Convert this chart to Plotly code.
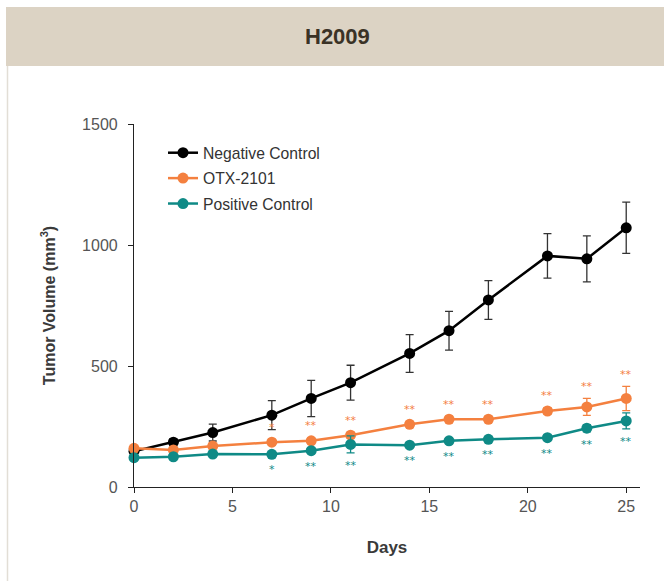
import plotly.graph_objects as go

days = [0, 2, 4, 7, 9, 11, 14, 16, 18, 21, 23, 25]

neg_mean = [148, 185, 225, 297, 366, 431, 552, 646, 773, 955, 943, 1071]
neg_err = [10, 15, 35, 60, 75, 72, 78, 80, 80, 92, 95, 106]

otx_mean = [160, 153, 169, 185, 191, 214, 259, 280, 280, 314, 331, 366]
otx_err = [8, 8, 10, 12, 12, 12, 12, 12, 12, 14, 35, 50]

pos_mean = [121, 125, 136, 135, 150, 176, 173, 191, 197, 204, 243, 273]
pos_err = [8, 8, 8, 10, 10, 35, 10, 10, 10, 10, 15, 33]

otx_sig = ["", "", "", "*", "**", "**", "**", "**", "**", "**", "**", "**"]
pos_sig = ["", "", "", "*", "**", "**", "**", "**", "**", "**", "**", "**"]

names = ["Negative Control", "OTX-2101", "Positive Control"]
colors = ["#000000", "#F4803F", "#0F8A86"]
err_colors = ["#333333", "#F4803F", "#0F8A86"]

fig = go.Figure()
for i, (m, e) in enumerate([(neg_mean, neg_err), (otx_mean, otx_err), (pos_mean, pos_err)]):
    fig.add_trace(go.Scatter(
        x=days, y=m, name=names[i], mode="lines+markers",
        line=dict(color=colors[i], width=2.5),
        marker=dict(color=colors[i], size=11),
        error_y=dict(type="data", array=e, visible=True, color=err_colors[i], thickness=1.3, width=4),
        cliponaxis=False, legendgroup=str(i),
    ))

# significance markers
for d, m, e, s in zip(days, otx_mean, otx_err, otx_sig):
    if s:
        fig.add_annotation(x=d, y=m + e, text=s, showarrow=False, yshift=12,
                           font=dict(color="#F4803F", size=11, family="DejaVu Sans"))
for d, m, e, s in zip(days, pos_mean, pos_err, pos_sig):
    if s:
        fig.add_annotation(x=d, y=m - e, text=s, showarrow=False, yshift=-13,
                           font=dict(color="#0F8A86", size=11, family="DejaVu Sans"))

W, H = 664, 581
L, R, T, B = 134, 24, 124, 94
pw = W - L - R
ph = H - T - B

def px2paper_x(px):
    return (px - L) / pw

def px2paper_y(py):
    return (H - B - py) / ph

fig.add_annotation(xref="paper", yref="paper", x=px2paper_x(337), y=px2paper_y(36.5), text="<b>H2009</b>",
                   showarrow=False, font=dict(size=22, color="#3a3226", family="Liberation Sans"),
                   xanchor="center", yanchor="middle")

fig.add_shape(type="rect", xref="paper", yref="paper",
              x0=px2paper_x(6), x1=px2paper_x(670), y0=px2paper_y(66), y1=px2paper_y(7),
              fillcolor="#DCD3C4", line=dict(width=0), layer="below")
fig.add_shape(type="line", xref="paper", yref="paper",
              x0=px2paper_x(7.5), x1=px2paper_x(7.5), y0=px2paper_y(66), y1=px2paper_y(585),
              line=dict(color="#E2DED6", width=1.5), layer="below")

fig.update_layout(
    width=W, height=H,
    margin=dict(l=L, r=R, t=T, b=B),
    paper_bgcolor="white", plot_bgcolor="white",
    font=dict(family="Liberation Sans", color="#555555"),
    showlegend=True,
    legend=dict(x=px2paper_x(163), y=px2paper_y(136), xanchor="left", yanchor="top",
                bgcolor="rgba(0,0,0,0)", font=dict(size=15.7, color="#333333"),
                traceorder="grouped", tracegroupgap=2, itemwidth=30),
    xaxis=dict(range=[0, 25.7], tickvals=[0, 5, 10, 15, 20, 25], showgrid=False, zeroline=False,
               showline=True, linecolor="#222222", linewidth=1.2, ticks="outside", ticklen=5,
               tickcolor="#222222", tickfont=dict(size=16, color="#555555"),
               title=dict(text="<b>Days</b>", font=dict(size=17, color="#3a3a3a"), standoff=26)),
    yaxis=dict(range=[0, 1500], tickvals=[0, 500, 1000, 1500], showgrid=False, zeroline=False,
               showline=True, linecolor="#222222", linewidth=1.2, ticks="outside", ticklen=5,
               ticklabelstandoff=7,
               tickcolor="#222222", tickfont=dict(size=16, color="#555555"),
               title=dict(text="<b>Tumor Volume (mm<sup>3</sup>)</b>", font=dict(size=16, color="#3a3a3a"), standoff=22)),
)

fig.write_html("out.html")
